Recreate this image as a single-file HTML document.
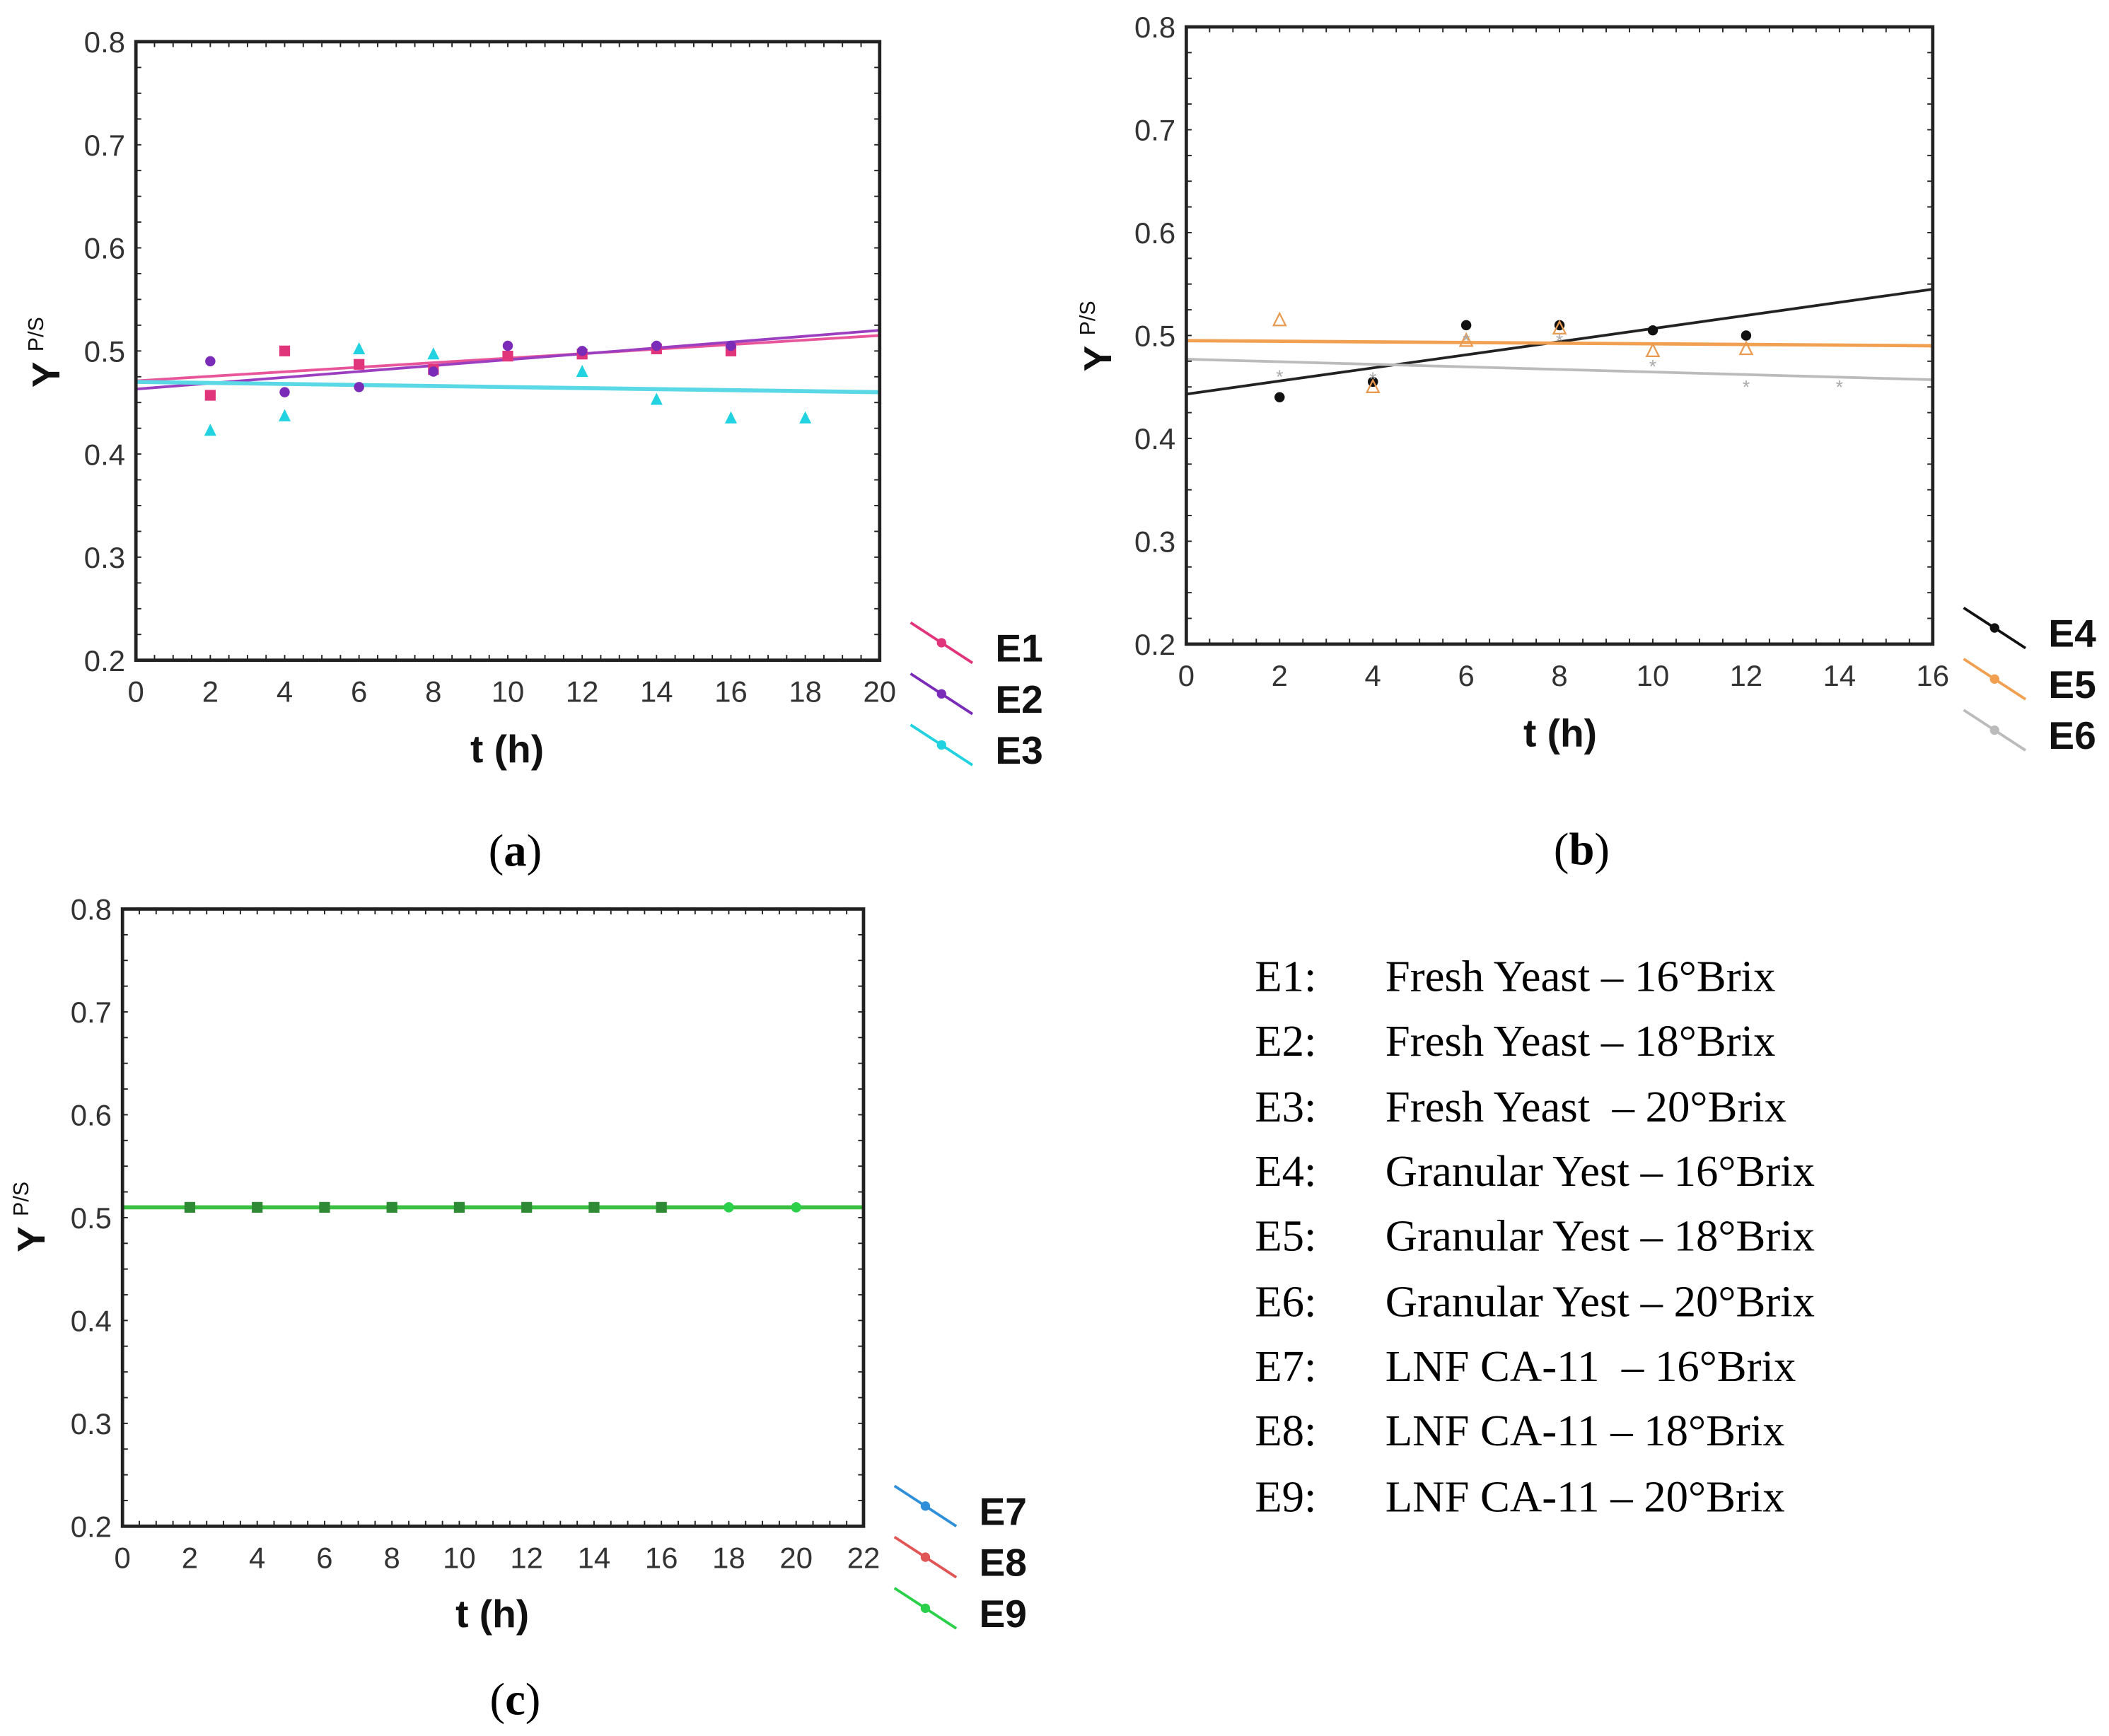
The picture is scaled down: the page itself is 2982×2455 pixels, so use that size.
<!DOCTYPE html>
<html><head><meta charset="utf-8"><style>
html,body{margin:0;padding:0;background:#fff;}
svg{display:block;}
</style></head><body>
<svg id="fig" width="2982" height="2455" viewBox="0 0 1568 1291" xmlns="http://www.w3.org/2000/svg">
<g font-family="Liberation Serif, serif" font-size="33" fill="#000">
<text x="933" y="737">E1:</text><text x="1030" y="737">Fresh Yeast – 16°Brix</text>
<text x="933" y="785">E2:</text><text x="1030" y="785">Fresh Yeast – 18°Brix</text>
<text x="933" y="834">E3:</text><text x="1030" y="834" xml:space="preserve">Fresh Yeast  – 20°Brix</text>
<text x="933" y="882">E4:</text><text x="1030" y="882">Granular Yest – 16°Brix</text>
<text x="933" y="930">E5:</text><text x="1030" y="930">Granular Yest – 18°Brix</text>
<text x="933" y="979">E6:</text><text x="1030" y="979">Granular Yest – 20°Brix</text>
<text x="933" y="1027">E7:</text><text x="1030" y="1027" xml:space="preserve">LNF CA-11  – 16°Brix</text>
<text x="933" y="1075">E8:</text><text x="1030" y="1075">LNF CA-11 – 18°Brix</text>
<text x="933" y="1124">E9:</text><text x="1030" y="1124">LNF CA-11 – 20°Brix</text>
</g>
<text x="383" y="644" font-family="Liberation Serif, serif" font-size="34" text-anchor="middle">(<tspan font-weight="bold">a</tspan>)</text>
<text x="1176" y="643" font-family="Liberation Serif, serif" font-size="34" text-anchor="middle">(<tspan font-weight="bold">b</tspan>)</text>
<text x="383" y="1275" font-family="Liberation Serif, serif" font-size="34" text-anchor="middle">(<tspan font-weight="bold">c</tspan>)</text>
</svg>
<script>
// ---- Chart (a) data ----
const aXTicks = [0,2,4,6,8,10,12,14,16,18,20];
const e1X = [2,4,6,8,10,12,14,16];
const e1Y = [0.457,0.500,0.487,0.482,0.495,0.497,0.502,0.500];
const e2X = [2,4,6,8,10,12,14,16];
const e2Y = [0.490,0.460,0.465,0.480,0.505,0.500,0.505,0.505];
const e3X = [2,4,6,8,12,14,16,18];
const e3Y = [0.423,0.437,0.502,0.497,0.480,0.453,0.435,0.435];
const aFitStart = [0.471,0.463,0.470];
const aFitEnd = [0.515,0.520,0.460];
// ---- Chart (b) data ----
const bXTicks = [0,2,4,6,8,10,12,14,16];
const e4X = [2,4,6,8,10,12];
const e4Y = [0.440,0.455,0.510,0.510,0.505,0.500];
const e5X = [2,4,6,8,10,12];
const e5Y = [0.515,0.450,0.495,0.507,0.485,0.487];
const e6X = [2,4,6,8,10,12,14];
const e6Y = [0.460,0.458,0.495,0.495,0.470,0.450,0.450];
const bFitStart = [0.443,0.495,0.477];
const bFitEnd = [0.545,0.490,0.457];
// ---- Chart (c) data ----
const cXTicks = [0,2,4,6,8,10,12,14,16,18,20,22];
const e78X = [2,4,6,8,10,12,14,16];
const e78Y = [0.51,0.51,0.51,0.51,0.51,0.51,0.51,0.51];
const e9X = [2,4,6,8,10,12,14,16,18,20];
const e9Y = [0.51,0.51,0.51,0.51,0.51,0.51,0.51,0.51,0.51,0.51];
const cFitStart = [0.51,0.51,0.51];
const cFitEnd = [0.51,0.51,0.51];
const yTicks = [0.2,0.3,0.4,0.5,0.6,0.7,0.8];

const NS='http://www.w3.org/2000/svg';
const svg=document.getElementById('fig');
function mk(tag,attrs,parent){const e=document.createElementNS(NS,tag);for(const k in attrs)e.setAttribute(k,attrs[k]);(parent||svg).appendChild(e);return e;}

function chart(id,box,xTicks,series,fits,legendPos,legend){
  const g=mk('g',{});
  
  
  const xmax=xTicks[xTicks.length-1];
  const sx=v=>box.l+(v/xmax)*(box.r-box.l);
  const sy=v=>box.b-(v-0.2)/0.6*(box.b-box.t);
  fits.forEach(f=>{
    const ln=mk('line',{x1:sx(0),y1:sy(f.s),x2:sx(xmax),y2:sy(f.e),stroke:f.c,'stroke-width':f.w||2},g);
    
    
  });
  series.forEach(s=>{
    s.x.forEach((xv,i)=>{
      const cx=sx(xv),cy=sy(s.y[i]);let m;
      if(s.m==='sq') m=mk('rect',{x:cx-4,y:cy-4,width:8,height:8,fill:s.c},g);
      else if(s.m==='ci') m=mk('circle',{cx:cx,cy:cy,r:3.8,fill:s.c},g);
      else if(s.m==='tri') m=mk('polygon',{points:`${cx},${cy-5} ${cx-4.5},${cy+4} ${cx+4.5},${cy+4}`,fill:s.c},g);
      else if(s.m==='otri') m=mk('polygon',{points:`${cx},${cy-5} ${cx-4.5},${cy+4} ${cx+4.5},${cy+4}`,fill:'none',stroke:s.c,'stroke-width':1.2},g);
      else m=mk('text',{x:cx,y:cy+5,'font-size':14,'text-anchor':'middle',fill:s.c,'font-family':'Liberation Sans, sans-serif'},g),m.textContent='*';
      
      
    });
  });
  const fr=mk('rect',{x:box.l,y:box.t,width:box.r-box.l,height:box.b-box.t,fill:'none',stroke:'#222','stroke-width':2.5},g);
  
  
  const step=(box.r-box.l)/(xmax*2);
  for(let i=0;i<=xmax*2;i++){const x=box.l+i*step;
    mk('line',{x1:x,y1:box.b,x2:x,y2:box.b-4,stroke:'#222','stroke-width':1},g);
    mk('line',{x1:x,y1:box.t,x2:x,y2:box.t+4,stroke:'#222','stroke-width':1},g);}
  for(let v=0;v<=24;v++){const y=box.b-v*(box.b-box.t)/24;
    mk('line',{x1:box.l,y1:y,x2:box.l+4,y2:y,stroke:'#222','stroke-width':1},g);
    mk('line',{x1:box.r,y1:y,x2:box.r-4,y2:y,stroke:'#222','stroke-width':1},g);}
  const font='Liberation Sans, sans-serif';
  xTicks.forEach(v=>{const t=mk('text',{x:sx(v),y:box.b+31,'font-size':22,'text-anchor':'middle',fill:'#333','font-family':font},g);t.textContent=v;
    
    });
  yTicks.forEach(v=>{const t=mk('text',{x:box.l-8,y:sy(v)+8,'font-size':22,'text-anchor':'end',fill:'#333','font-family':font},g);t.textContent=v.toFixed(1);
    
    });
  const xt=mk('text',{x:box.xt[0],y:box.xt[1],'font-size':29,'font-weight':'bold','text-anchor':'middle',fill:'#111','font-family':font},g);
  xt.textContent='t (h)';
  
  
  const yt=mk('text',{transform:`translate(${box.yt[0]},${box.yt[1]}) rotate(-90)`,'font-size':29,'font-weight':'bold','text-anchor':'middle',fill:'#111','font-family':font},g);
  yt.innerHTML='Y <tspan font-size="16" font-weight="normal" dy="-12">P/S</tspan>';
  
  
  legend.forEach((L,i)=>{const y=legendPos[1]+i*38;
    const lg=mk('g',{},g);
    
    
    mk('line',{x1:legendPos[0],y1:y-20,x2:legendPos[0]+46,y2:y+10,stroke:L.c,'stroke-width':2},lg);
    mk('circle',{cx:legendPos[0]+23,cy:y-5,r:3.5,fill:L.c},lg);
    const t=mk('text',{x:legendPos[0]+63,y:y+9,'font-size':29,'font-weight':'bold',fill:'#111','font-family':font},lg);t.textContent=L.n;});
}

chart('a',{l:101,r:654,t:31,b:491,xt:[377,567],yt:[44,262]},aXTicks,
 [{n:'E1',x:e1X,y:e1Y,c:'#e0357a',m:'sq'},{n:'E2',x:e2X,y:e2Y,c:'#7a2bb8',m:'ci'},{n:'E3',x:e3X,y:e3Y,c:'#22d2e0',m:'tri'}],
 [{n:'E1',s:aFitStart[0],e:aFitEnd[0],c:'#e8559a'},{n:'E2',s:aFitStart[1],e:aFitEnd[1],c:'#9b3ec0'},{n:'E3',s:aFitStart[2],e:aFitEnd[2],c:'#5ad8e6',w:3}],
 [677,483],[{n:'E1',c:'#e0357a'},{n:'E2',c:'#7a2bb8'},{n:'E3',c:'#22d2e0'}]);

chart('b',{l:882,r:1437,t:20,b:479,xt:[1160,555],yt:[826,250]},bXTicks,
 [{n:'E4',x:e4X,y:e4Y,c:'#111',m:'ci'},{n:'E5',x:e5X,y:e5Y,c:'#e89a50',m:'otri'},{n:'E6',x:e6X,y:e6Y,c:'#aaa',m:'star'}],
 [{n:'E4',s:bFitStart[0],e:bFitEnd[0],c:'#222'},{n:'E5',s:bFitStart[1],e:bFitEnd[1],c:'#f0a050',w:2.5},{n:'E6',s:bFitStart[2],e:bFitEnd[2],c:'#bbb'}],
 [1460,472],[{n:'E4',c:'#111'},{n:'E5',c:'#f0a050'},{n:'E6',c:'#bbb'}]);

chart('c',{l:91,r:642,t:676,b:1135,xt:[366,1210],yt:[33,905]},cXTicks,
 [{n:'E9',x:e9X,y:e9Y,c:'#2ad04a',m:'ci'},{n:'E7-E8',x:e78X,y:e78Y,c:'#2f8a35',m:'sq'}],
 [{n:'E7',s:cFitStart[0],e:cFitEnd[0],c:'#3a8fd0'},{n:'E8',s:cFitStart[1],e:cFitEnd[1],c:'#d85050'},{n:'E9',s:cFitStart[2],e:cFitEnd[2],c:'#3cc043',w:3}],
 [665,1125],[{n:'E7',c:'#2f8fd8'},{n:'E8',c:'#e05555'},{n:'E9',c:'#2ad04a'}]);
</script>
</body></html>
